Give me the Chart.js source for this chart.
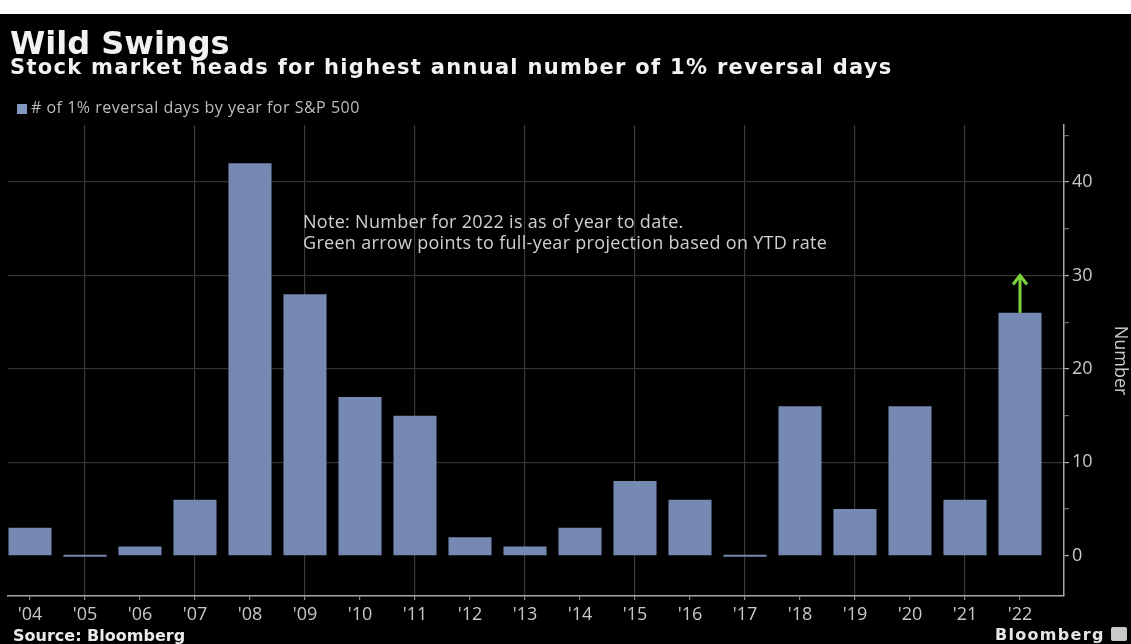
<!DOCTYPE html>
<html lang="en">
<head>
<meta charset="UTF-8">
<title>Wild Swings</title>
<style>
  body { margin: 0; background: #fff; width: 1131px; height: 644px; overflow: hidden; position: relative; }
  #frame { position: absolute; left: 0; top: 14px; width: 1131px; height: 630px; background: #000; }
  #chart { position: absolute; left: 0; top: 0; }
  .txt { position: absolute; white-space: nowrap; line-height: 1; }
  #title { left: 10px; top: 24px; font: bold 32px "DejaVu Sans", sans-serif; color: #f2f2f2; }
  #subtitle { left: 10px; top: 55px; font: bold 21px "DejaVu Sans", sans-serif; color: #f2f2f2; letter-spacing: 1.3px; }
  #legend { left: 17px; top: 96px; font: 16px "Open Sans", sans-serif; color: #bdbdbd; letter-spacing: 0.5px; }
  #legend span { display: inline-block; width: 10px; height: 10px; background: #8396c0; margin-right: 4px; vertical-align: -1px; }
  #note { left: 303px; top: 211px; font: 18px "Open Sans", sans-serif; color: #d0d0d0; line-height: 21px; letter-spacing: 0.3px; }
  #source { left: 13px; top: 626px; font: bold 16px "DejaVu Sans", sans-serif; color: #eaeaea; }
  #brand { left: 995px; top: 625px; font: bold 16px "DejaVu Sans", sans-serif; color: #e6e6e6; letter-spacing: 1.3px; }
  #brand i { display: inline-block; width: 16px; height: 14px; background: #c9c9c9; border-radius: 2px; margin-left: 6px; vertical-align: -1px; }
</style>
</head>
<body>
<div id="frame"></div>
<canvas id="chart" width="1131" height="644"></canvas>
<div class="txt" id="title">Wild Swings</div>
<div class="txt" id="subtitle">Stock market heads for highest annual number of 1% reversal days</div>
<div class="txt" id="legend"><span></span># of 1% reversal days by year for S&amp;P 500</div>
<div class="txt" id="note">Note: Number for 2022 is as of year to date.<br>Green arrow points to full-year projection based on YTD rate</div>
<div class="txt" id="source">Source: Bloomberg</div>
<div class="txt" id="brand">Bloomberg<i></i></div>
<script src="https://cdn.jsdelivr.net/npm/chart.js"></script>
<script>
const years = [2004, 2005, 2006, 2007, 2008, 2009, 2010, 2011, 2012, 2013,
               2014, 2015, 2016, 2017, 2018, 2019, 2020, 2021, 2022];
const yearLabels = ["'04", "'05", "'06", "'07", "'08", "'09", "'10", "'11", "'12", "'13",
                    "'14", "'15", "'16", "'17", "'18", "'19", "'20", "'21", "'22"];
const reversalDays = [3, 0, 1, 6, 42, 28, 17, 15, 2, 1, 3, 8, 6, 0, 16, 5, 16, 6, 26];
// full-year projection for 2022 based on the YTD pace
const projected2022 = 30;

const barColor = '#7689b2';
const arrowColor = '#7ed33c';

// green arrow from the 2022 bar up to the projection
const arrowPlugin = {
  id: 'projectionArrow',
  afterDatasetsDraw(chart) {
    const { ctx, scales: { x, y } } = chart;
    const last = years.length - 1;
    const px = x.getPixelForValue(years[last]);
    const yBar = y.getPixelForValue(reversalDays[last]);
    const yTip = y.getPixelForValue(projected2022) - 2;
    ctx.save();
    ctx.strokeStyle = arrowColor;
    ctx.lineWidth = 3;
    ctx.lineCap = 'butt';
    ctx.beginPath();
    ctx.moveTo(px, yBar);
    ctx.lineTo(px, yTip + 2);
    ctx.stroke();
    ctx.lineJoin = 'miter';
    ctx.beginPath();
    ctx.moveTo(px - 7, yTip + 11);
    ctx.lineTo(px, yTip + 2);
    ctx.lineTo(px + 7, yTip + 11);
    ctx.stroke();
    ctx.restore();
  }
};

new Chart(document.getElementById('chart'), {
  type: 'bar',
  data: {
    datasets: [{
      label: '# of 1% reversal days by year for S&P 500',
      data: years.map((yr, i) => ({ x: yr, y: reversalDays[i] })),
      backgroundColor: barColor,
      borderWidth: 0,
      minBarLength: 2,
      categoryPercentage: 0.87,
      barPercentage: 0.9
    }]
  },
  options: {
    responsive: false,
    animation: false,
    layout: { padding: { top: 125, left: 8, right: 0, bottom: 0 } },
    plugins: { legend: { display: false }, tooltip: { enabled: false } },
    scales: {
      x: {
        type: 'linear',
        offset: false,
        min: 2003.6,
        max: 2022.8,
        afterFit(scale) { scale.height = 48; },
        border: { color: '#a8a8a8', width: 1.5 },
        grid: {
          offset: false,
          color: ctx => (ctx.tick && ctx.tick.value % 2 === 1) ? '#3a3a3a' : 'rgba(0,0,0,0)',
          lineWidth: 1.2,
          tickColor: '#8a8a8a',
          tickLength: 4
        },
        ticks: {
          stepSize: 1,
          includeBounds: false,
          autoSkip: false,
          maxRotation: 0,
          padding: 4,
          color: '#c8c8c8',
          font: { family: 'Open Sans', size: 18 },
          callback: v => yearLabels[years.indexOf(v)]
        }
      },
      y: {
        position: 'right',
        min: -4.3,
        max: 46.1,
        afterFit(scale) { scale.width = 67; },
        border: { color: '#a8a8a8', width: 1.5 },
        grid: {
          color: ctx => (ctx.tick && ctx.tick.value % 10 === 0 && ctx.tick.value !== 0) ? '#333333' : 'rgba(0,0,0,0)',
          lineWidth: 1.2,
          tickColor: ctx => (ctx.tick && ctx.tick.value % 10 === 0) ? '#b0b0b0' : '#6a6a6a',
          tickLength: 5
        },
        ticks: {
          stepSize: 5,
          includeBounds: false,
          padding: 3,
          color: '#c8c8c8',
          font: { family: 'Open Sans', size: 18 },
          callback: v => (v % 10 === 0 ? v : '')
        },
        title: {
          display: true,
          text: 'Number',
          color: '#c8c8c8',
          padding: 0,
          font: { family: 'Open Sans', size: 18 }
        }
      }
    }
  },
  plugins: [arrowPlugin]
});
</script>
</body>
</html>
